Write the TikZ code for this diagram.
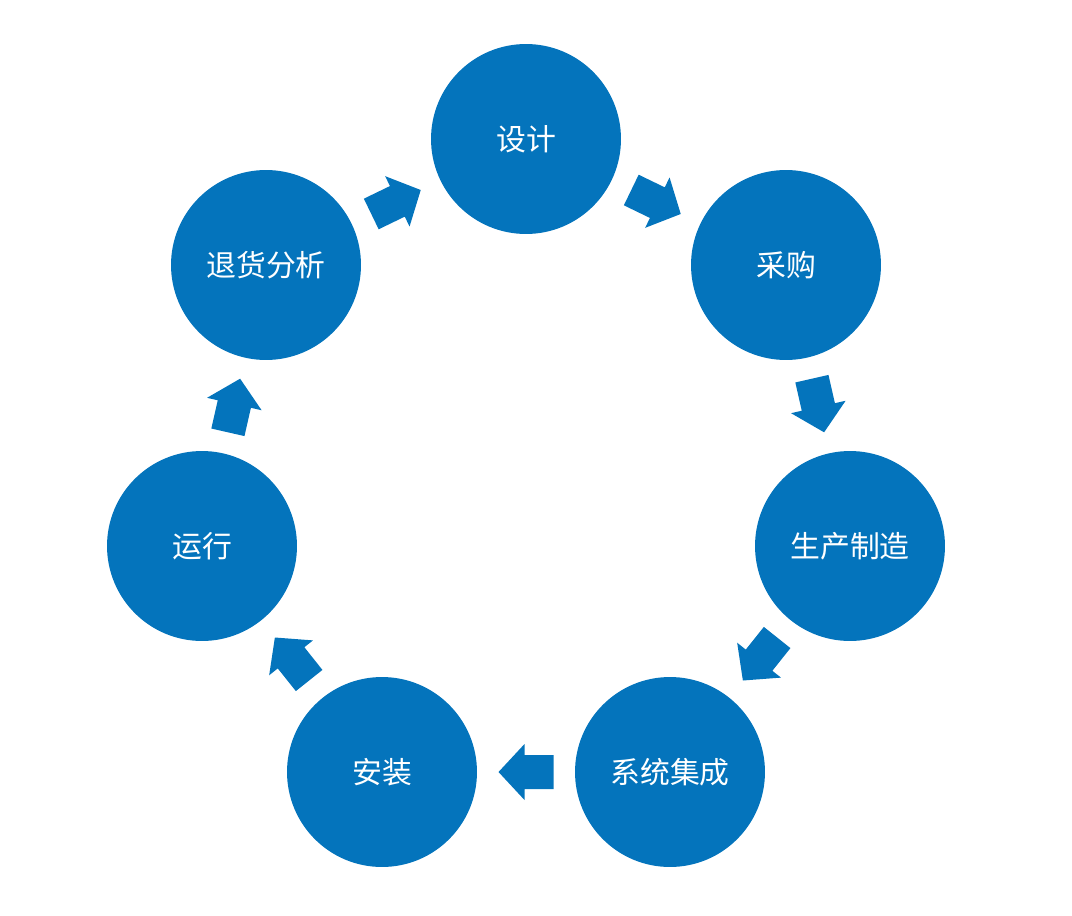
\documentclass[tikz,border=0pt]{standalone}
\usepackage{fontspec}
\newfontfamily\cjk{Noto Sans CJK SC}
\usetikzlibrary{calc}
\definecolor{stepblue}{HTML}{0474BC}
\tikzset{
    stage/.style={circle, fill=stepblue, minimum size=3.8cm, inner sep=0pt, text=white, font=\cjk\fontsize{17}{19}\selectfont},
    flow/.style={fill=stepblue, draw=none}
}
\begin{document}
\begin{tikzpicture}[x=0.02cm, y=-0.02cm]
    \useasboundingbox (0,0) rectangle (1072,916);
    \node[stage] (c0) at (526,139) {设计};
    \node[stage] (c1) at (786,265) {采购};
    \node[stage] (c2) at (850,546) {生产制造};
    \node[stage] (c3) at (670,772) {系统集成};
    \node[stage] (c4) at (382,772) {安装};
    \node[stage] (c5) at (202,546) {运行};
    \node[stage] (c6) at (266,265) {退货分析};
    % block arrows half way between neighbours
    \foreach \k [evaluate=\k as \m using {int(mod(\k+1,7))}] in {0,...,6} {
        \path let \p1=(c\k.center), \p2=(c\m.center), \n1={atan2(\y2-\y1,\x2-\x1)} in
            \pgfextra{\xdef\ang{\n1}} coordinate (a\k) at ($(\p1)!0.5!(\p2)$);
        \fill[flow, shift={(a\k)}, rotate=\ang]
            (-0.55cm,-0.34cm) -- (0.03cm,-0.34cm) -- (0.03cm,-0.56cm) -- (0.55cm,0cm)
            -- (0.03cm,0.56cm) -- (0.03cm,0.34cm) -- (-0.55cm,0.34cm) -- cycle;
    }
\end{tikzpicture}
\end{document}
